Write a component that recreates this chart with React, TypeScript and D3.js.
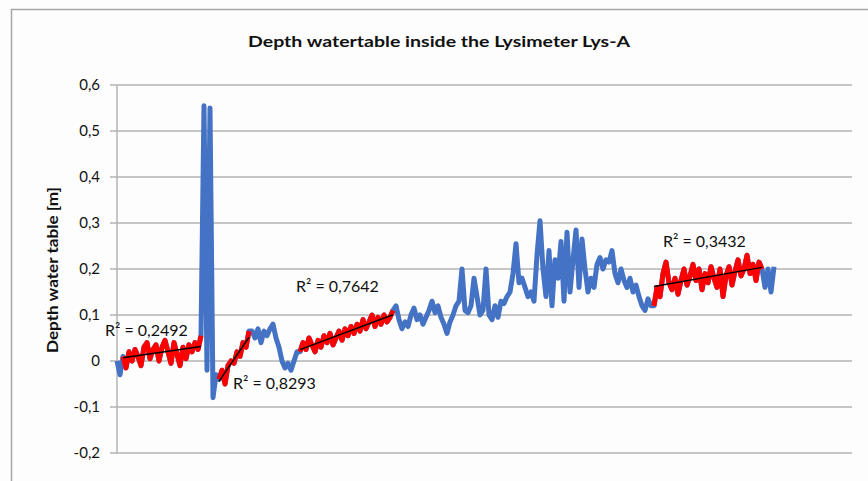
import React from "react";
import * as d3 from "d3";

const title = "Depth watertable inside the Lysimeter Lys-A";
const yAxisTitle = "Depth water table [m]";
const yTicks = [-0.2, -0.1, 0, 0.1, 0.2, 0.3, 0.4, 0.5, 0.6];

// measurement index (sample number) -> depth [m]
const depth = [
  0.0, -0.03, 0.01, -0.015, 0.02, 0.0, 0.025, 0.01, -0.01, 0.03,
  0.04, 0.005, 0.025, 0.035, 0.0, 0.03, 0.045, 0.02, -0.005, 0.04,
  0.015, -0.01, 0.03, 0.005, 0.035, 0.02, 0.04, 0.025, 0.055, 0.555,
  -0.02, 0.55, -0.08, -0.03, -0.04, -0.02, -0.05, -0.01, 0.0, -0.005,
  0.02, 0.01, 0.04, 0.03, 0.065, 0.065, 0.05, 0.07, 0.04, 0.065,
  0.055, 0.07, 0.08, 0.05, 0.03, 0.0, -0.015, -0.005, -0.02, 0.0,
  0.02, 0.02, 0.04, 0.025, 0.05, 0.035, 0.02, 0.045, 0.03, 0.055,
  0.04, 0.06, 0.035, 0.05, 0.065, 0.045, 0.07, 0.055, 0.075, 0.06,
  0.08, 0.065, 0.09, 0.07, 0.085, 0.1, 0.075, 0.095, 0.08, 0.1,
  0.085, 0.095, 0.11, 0.12, 0.09, 0.07, 0.085, 0.075, 0.1, 0.115,
  0.09, 0.1, 0.08, 0.095, 0.11, 0.13, 0.105, 0.12, 0.095, 0.08,
  0.06, 0.085, 0.1, 0.12, 0.13, 0.2, 0.11, 0.105, 0.12, 0.18,
  0.14, 0.1, 0.11, 0.2, 0.1, 0.09, 0.12, 0.095, 0.13, 0.125,
  0.14, 0.15, 0.19, 0.255, 0.17, 0.18, 0.16, 0.14, 0.15, 0.13,
  0.23, 0.305, 0.2, 0.14, 0.24, 0.12, 0.22, 0.18, 0.26, 0.13,
  0.28, 0.15, 0.22, 0.285, 0.16, 0.265, 0.2, 0.15, 0.18, 0.16,
  0.21, 0.225, 0.2, 0.22, 0.215, 0.24, 0.19, 0.17, 0.2, 0.175,
  0.16, 0.18, 0.15, 0.165, 0.14, 0.12, 0.11, 0.135, 0.12, 0.12,
  0.16, 0.14, 0.19, 0.215, 0.17, 0.155, 0.18, 0.145, 0.175, 0.2,
  0.165, 0.185, 0.21, 0.175, 0.2, 0.155, 0.19, 0.17, 0.205, 0.18,
  0.16, 0.2, 0.14, 0.185, 0.205, 0.165, 0.195, 0.22, 0.185, 0.2,
  0.23, 0.19, 0.21, 0.175, 0.215, 0.2, 0.16, 0.2, 0.15, 0.205,
];

// fitted periods (start index, end index)
const fitStarts = [2, 34, 61, 179];
const fitEnds = [28, 44, 92, 215];
const fitLabels = ["R² = 0,2492", "R² = 0,8293", "R² = 0,7642", "R² = 0,3432"];

const W = 868;
const H = 481;

function regress(pts: [number, number][]) {
  const n = pts.length;
  const mx = d3.mean(pts, (p) => p[0]) as number;
  const my = d3.mean(pts, (p) => p[1]) as number;
  let sxy = 0;
  let sxx = 0;
  for (const [x, y] of pts) {
    sxy += (x - mx) * (y - my);
    sxx += (x - mx) * (x - mx);
  }
  const b = sxx ? sxy / sxx : 0;
  const a = my - b * mx;
  return { a, b, n };
}

export default function App() {
  const x = d3.scaleLinear().domain([0, 245]).range([117, 852]);
  const y = d3.scaleLinear().domain([-0.2, 0.6]).range([453, 85]);

  const pts: [number, number][] = depth.map((v, i) => [i, v]);
  const line = d3
    .line<[number, number]>()
    .x((d) => x(d[0]))
    .y((d) => y(d[1]))
    .curve(d3.curveLinear);

  const segs = fitStarts.map((s, k) => pts.slice(s, fitEnds[k] + 1));
  const fits = segs.map((seg) => {
    const r = regress(seg);
    const x0 = seg[0][0];
    const x1 = seg[seg.length - 1][0];
    return { x0, x1, y0: r.a + r.b * x0, y1: r.a + r.b * x1 };
  });

  // label anchor positions (pixel layout)
  const labelPos = [
    { x: 105, y: 336 },
    { x: 233, y: 389 },
    { x: 296, y: 292 },
    { x: 663, y: 247 },
  ];

  const font = "Lato, 'Open Sans', sans-serif";

  return (
    <svg
      width={W}
      height={H}
      style={{ position: "absolute", left: 0, top: 0, background: "#fdfdfd" }}
    >
      <rect x={0} y={0} width={W} height={H} fill="#fdfdfd" />
      {/* chart border */}
      <line x1={11.5} y1={9} x2={11.5} y2={H} stroke="#a6a6a6" strokeWidth={1.5} />
      <line x1={11} y1={9.5} x2={W} y2={9.5} stroke="#a6a6a6" strokeWidth={1.5} />

      <text
        x={439}
        y={47}
        textAnchor="middle"
        fontFamily={font}
        fontWeight="bold"
        fontSize={16}
        fill="#111"
        textLength={382}
        lengthAdjust="spacingAndGlyphs"
      >
        {title}
      </text>

      {/* gridlines and ticks */}
      {yTicks.map((t) => (
        <g key={t}>
          <line
            x1={110}
            x2={852}
            y1={y(t)}
            y2={y(t)}
            stroke="#b3b3b3"
            strokeWidth={1.5}
          />
          <text
            x={100}
            y={y(t) + 5}
            textAnchor="end"
            fontFamily={font}
            fontSize={15}
            fill="#111"
          >
            {t === 0 ? "0" : t.toFixed(1).replace(".", ",")}
          </text>
        </g>
      ))}
      <line x1={117} x2={117} y1={y(0.6)} y2={y(-0.2)} stroke="#b3b3b3" strokeWidth={1.5} />

      <text
        transform={`translate(58,270) rotate(-90)`}
        textAnchor="middle"
        fontFamily={font}
        fontWeight="bold"
        fontSize={15}
        fill="#111"
        textLength={166}
        lengthAdjust="spacingAndGlyphs"
      >
        {yAxisTitle}
      </text>

      {/* full series */}
      <path
        d={line(pts) || ""}
        fill="none"
        stroke="#4472C4"
        strokeWidth={5}
        strokeLinejoin="round"
      />
      {/* fitted periods */}
      {segs.map((seg, k) => (
        <path
          key={k}
          d={line(seg) || ""}
          fill="none"
          stroke="#FF0000"
          strokeWidth={5}
          strokeLinejoin="round"
        />
      ))}
      {fits.map((f, k) => (
        <line
          key={k}
          x1={x(f.x0)}
          y1={y(f.y0)}
          x2={x(f.x1)}
          y2={y(f.y1)}
          stroke="#000"
          strokeWidth={1.5}
        />
      ))}
      {fitLabels.map((l, k) => (
        <text
          key={k}
          x={labelPos[k].x}
          y={labelPos[k].y}
          fontFamily={font}
          fontSize={16}
          fill="#111"
        >
          {l}
        </text>
      ))}
    </svg>
  );
}
